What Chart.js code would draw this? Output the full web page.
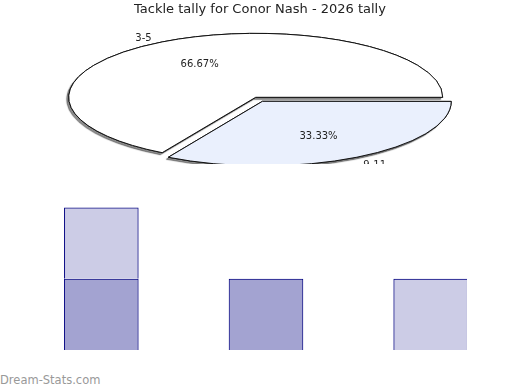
<!DOCTYPE html>
<html>
<head>
<meta charset="utf-8">
<script src="https://cdn.jsdelivr.net/npm/chart.js@4"></script>
<style>
    html, body { margin: 0; padding: 0; background: #fff; }
    body { width: 520px; height: 390px; position: relative; overflow: hidden; }
    #pieWrap { position: absolute; left: 0; top: 0; width: 520px; height: 164px; overflow: hidden; }
    #barWrap { position: absolute; left: 0; top: 172px; width: 467px; height: 178px; overflow: hidden; }
    #watermark {
        position: absolute; left: 0; top: 373px;
        font: 11.5px "DejaVu Sans", sans-serif; color: #999;
    }
</style>
</head>
<body>
<div id="pieWrap"><canvas id="pieChart" width="520" height="480"></canvas></div>
<div id="barWrap"><canvas id="barChart" width="520" height="178"></canvas></div>
<div id="watermark">Dream-Stats.com</div>
<script>
// Pie data
const pieLabels = ['3-5', '9-11'];
const pieValues = [2, 1];
const pieColors = ['#ffffff', '#eaf0fd'];

// Bar data
const barCategories = ['1', '2', '3'];
const darkSeries = [1, 1, null];
const lightSeries = [1, null, 1];

Chart.defaults.font.family = '"DejaVu Sans", sans-serif';
Chart.defaults.color = '#222';

// where the flattened pie sits on the page
const PIE_CX = 255.7;
const PIE_CY = 97.3;
const PIE_SQUASH = 0.342;

/**
 * Flatten the pie into an ellipse, keep line widths even, add a drop shadow
 */
const flatPie = {
    id: 'flatPie',
    beforeDatasetsDraw(chart) {
        const ctx = chart.ctx;
        const arcs = chart.getDatasetMeta(0).data;
        const dpr = chart.currentDevicePixelRatio;
        ctx.save();
        ctx.translate(PIE_CX - arcs[0].x, PIE_CY);
        ctx.scale(1, PIE_SQUASH);
        ctx.translate(0, -arcs[0].y);

        // stroke in page space so borders are not squashed
        const stroke = CanvasRenderingContext2D.prototype.stroke;
        ctx.stroke = function () {
            this.save();
            this.setTransform(dpr, 0, 0, dpr, 0, 0);
            stroke.call(this);
            this.restore();
        };

        ctx.save();
        ctx.shadowColor = 'rgba(0, 0, 0, 0.45)';
        ctx.shadowOffsetX = -2;
        ctx.shadowOffsetY = 2;
        ctx.shadowBlur = 1;
        arcs.forEach(arc => arc.draw(ctx));
        ctx.restore();
    },
    afterDatasetsDraw(chart) {
        delete chart.ctx.stroke;
        chart.ctx.restore();
    },
    afterDraw(chart) {
        const ctx = chart.ctx;
        const meta = chart.getDatasetMeta(0);
        const total = pieValues.reduce((a, b) => a + b, 0);
        ctx.save();
        ctx.font = '10px "DejaVu Sans", sans-serif';
        ctx.fillStyle = '#222';
        ctx.textAlign = 'center';
        ctx.textBaseline = 'middle';
        meta.data.forEach((arc, i) => {
            const mid = (arc.startAngle + arc.endAngle) / 2;
            const shift = (arc.options.offset || 0) / 4;
            const r = arc.outerRadius;
            const ox = PIE_CX + Math.cos(mid) * shift;
            const oy = PIE_CY + Math.sin(mid) * shift * PIE_SQUASH;
            const pct = (pieValues[i] / total * 100).toFixed(2) + '%';
            ctx.fillText(pct, ox + Math.cos(mid) * r * 0.6, oy + 1 + Math.sin(mid) * r * PIE_SQUASH * 0.61);
            ctx.fillText(pieLabels[i], ox + Math.cos(mid) * r * 1.2, oy + 2.5 + Math.sin(mid) * r * PIE_SQUASH * 1.11);
        });
        ctx.restore();
    }
};

new Chart(document.getElementById('pieChart'), {
    type: 'pie',
    data: {
        labels: pieLabels,
        datasets: [{
            data: pieValues,
            backgroundColor: pieColors,
            borderColor: '#111',
            borderWidth: 1,
            offset: [0, 54],
            hoverOffset: 0
        }]
    },
    options: {
        responsive: false,
        animation: false,
        rotation: 210,
        radius: 187,
        layout: { padding: 0 },
        plugins: {
            legend: { display: false },
            tooltip: { enabled: false },
            title: {
                display: true,
                text: 'Tackle tally for Conor Nash - 2026 tally',
                color: '#222',
                font: { size: 13, weight: 'normal' },
                padding: { top: 2, bottom: 0 }
            }
        }
    },
    plugins: [flatPie]
});

new Chart(document.getElementById('barChart'), {
    type: 'bar',
    data: {
        labels: barCategories,
        datasets: [
            {
                label: 'dark',
                data: darkSeries,
                backgroundColor: 'rgba(0, 0, 128, 0.36)',
                borderColor: '#000080',
                borderWidth: 1
            },
            {
                label: 'light',
                data: lightSeries,
                backgroundColor: 'rgba(0, 0, 128, 0.2)',
                borderColor: '#000080',
                borderWidth: 1
            }
        ]
    },
    options: {
        responsive: false,
        animation: false,
        categoryPercentage: 1,
        barPercentage: 0.453,
        layout: { padding: { left: 19, right: 7, top: 0, bottom: 0 } },
        scales: {
            x: { display: false, stacked: true },
            y: { display: false, stacked: true, min: 0, max: 2.5 }
        },
        plugins: {
            legend: { display: false },
            tooltip: { enabled: false }
        }
    }
});
</script>
</body>
</html>
